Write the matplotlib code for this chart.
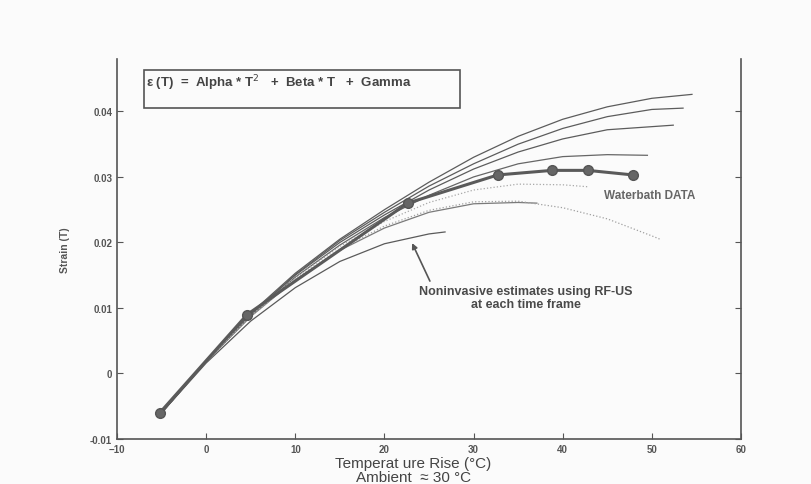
import numpy as np
import matplotlib
matplotlib.use("Agg")
import matplotlib.pyplot as plt
from matplotlib.patches import Rectangle

# waterbath measurements
wb_T = [-5.2, 4.6, 22.6, 32.7, 38.8, 42.8, 47.9]
wb_s = [-0.006, 0.009, 0.026, 0.0303, 0.031, 0.031, 0.0303]

# noninvasive estimates (one curve per time frame)
c1_T = [-5, 0, 5, 10, 15, 20, 25, 30, 35, 40, 45, 50, 54.5]
c1_s = [-0.006, 0.0020, 0.0092, 0.0153, 0.0205, 0.0250, 0.0292, 0.0330, 0.0362, 0.0388, 0.0407, 0.0420, 0.0426]
c2_T = [-5, 0, 5, 10, 15, 20, 25, 30, 35, 40, 45, 50, 53.5]
c2_s = [-0.006, 0.0019, 0.0090, 0.0151, 0.0203, 0.0246, 0.0286, 0.0320, 0.0350, 0.0374, 0.0392, 0.0403, 0.0405]
c3_T = [-5, 0, 5, 10, 15, 20, 25, 30, 35, 40, 45, 52.4]
c3_s = [-0.006, 0.0019, 0.0090, 0.0150, 0.0200, 0.0242, 0.0280, 0.0312, 0.0338, 0.0358, 0.0372, 0.0379]
c4_T = [-5, 0, 5, 10, 15, 20, 25, 30, 35, 40, 45, 49.5]
c4_s = [-0.006, 0.0018, 0.0088, 0.0147, 0.0196, 0.0238, 0.0272, 0.0300, 0.0320, 0.0331, 0.0334, 0.0333]
c5_T = [-5, 0, 5, 10, 15, 20, 25, 30, 35, 40, 42.8]
c5_s = [-0.006, 0.0019, 0.0088, 0.0146, 0.0194, 0.0232, 0.0261, 0.0280, 0.0289, 0.0288, 0.0285]
c6_T = [-5, 0, 5, 10, 15, 20, 25, 30, 35, 37.1]
c6_s = [-0.006, 0.0019, 0.0087, 0.0143, 0.0188, 0.0222, 0.0246, 0.0259, 0.0261, 0.0260]
c7_T = [-5, 0, 5, 10, 15, 20, 25, 30, 35, 40, 45, 50, 50.9]
c7_s = [-0.006, 0.0019, 0.0087, 0.0144, 0.0190, 0.0225, 0.0249, 0.0262, 0.0263, 0.0253, 0.0236, 0.0210, 0.0205]
c8_T = [-5, 0, 5, 10, 15, 20, 25, 26.8]
c8_s = [-0.006, 0.0016, 0.0080, 0.0131, 0.0171, 0.0198, 0.0213, 0.0216]

curves = [(c1_T, c1_s, "#5c5c5c", "-"), (c2_T, c2_s, "#5c5c5c", "-"),
          (c3_T, c3_s, "#5c5c5c", "-"), (c4_T, c4_s, "#666666", "-"),
          (c5_T, c5_s, "#a8a8a8", ":"), (c6_T, c6_s, "#7a7a7a", "-"),
          (c7_T, c7_s, "#a0a0a0", ":"), (c8_T, c8_s, "#5a5a5a", "-")]

plt.rcParams["font.family"] = ["Liberation Sans", "DejaVu Sans"]
bg = "#fbfbfb"
fig = plt.figure(figsize=(8.11, 4.85), dpi=100)
fig.patch.set_facecolor(bg)
ax = fig.add_axes([0.1443, 0.0928, 0.9137 - 0.1443, 0.8763 - 0.0928])
ax.set_facecolor(bg)

for T, s, col, ls in curves:
    ax.plot(T, s, color=col, ls=ls, lw=0.9)
ax.plot(wb_T, wb_s, color="#5a5a5a", lw=2.2, marker="o", ms=7,
        mfc="#666666", mec="#555555", zorder=5)

ax.set_xlim(-10, 60)
ax.set_ylim(-0.01, 0.048)
ax.set_xticks(np.arange(-10, 61, 10))
ax.set_yticks([-0.01, 0, 0.01, 0.02, 0.03, 0.04])
ax.set_yticklabels(["-0.01", "0", "0.01", "0.02", "0.03", "0.04"])
ax.spines["top"].set_visible(False)
for sp in ("left", "right", "bottom"):
    ax.spines[sp].set_color("#555555")
    ax.spines[sp].set_linewidth(1.2)
ax.tick_params(direction="in", length=4, color="#555555", labelsize=7,
               labelcolor="#555555", right=True)
for lab in ax.get_xticklabels() + ax.get_yticklabels():
    lab.set_fontweight("bold")

ax.set_ylabel("Strain (T)", fontsize=7.5, color="#555555", fontweight="bold")
ax.yaxis.set_label_coords(-0.075, 0.50)
ax.set_xlabel("Temperat ure Rise (\u00b0C)\nAmbient  \u2248 30 \u00b0C", fontsize=11,
              color="#444444", linespacing=1.0)
ax.xaxis.set_label_coords(0.475, -0.045)
ax.xaxis.label.set_verticalalignment("top")

# formula box
ax.add_patch(Rectangle((0.043, 0.871), 0.507, 0.100, transform=ax.transAxes,
                       fc=bg, ec="#555555", lw=1.2, zorder=6))
ax.text(0.047, 0.939, "\u03b5 (T)  =  Alpha * T$^2$   +  Beta * T   +  Gamma",
        transform=ax.transAxes, fontsize=9.5, color="#444444", fontweight="bold",
        va="center", ha="left", zorder=7)

ax.text(44.6, 0.0272, "Waterbath DATA", fontsize=8.5, color="#666666",
        fontweight="bold", ha="left", va="center")

ax.text(35.9, 0.0116, "Noninvasive estimates using RF-US\nat each time frame",
        fontsize=9, color="#4a4a4a", fontweight="bold", ha="center",
        va="center", linespacing=1.15)
ax.annotate("", xy=(23.1, 0.0199), xytext=(25.1, 0.0141),
            arrowprops=dict(arrowstyle="-|>", color="#555555", lw=1.2,
                            mutation_scale=8, shrinkA=0, shrinkB=0))

fig.savefig("out.png", dpi=100, facecolor=fig.get_facecolor())
